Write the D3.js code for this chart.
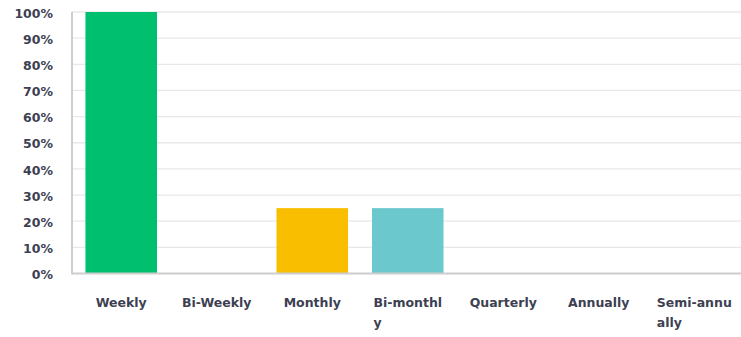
<!DOCTYPE html>
<html>
<head>
<meta charset="utf-8">
<script src="https://cdn.jsdelivr.net/npm/d3@7"></script>
<style>
  html, body { margin: 0; padding: 0; background: #fff; }
  svg { display: block; }
</style>
</head>
<body>
<svg id="chart" width="741" height="337"></svg>
<script>
// Response frequency, share of respondents per answer choice
const categories = ["Weekly", "Bi-Weekly", "Monthly", "Bi-monthly", "Quarterly", "Annually", "Semi-annually"];
const values = [100, 0, 25, 25, 0, 0, 0];
const barColors = ["#00bf6f", "#00bf6f", "#f9be00", "#6bc8cd", "#00bf6f", "#00bf6f", "#00bf6f"];
// Axis labels as they are broken over lines under each bar
const tickLines = [["Weekly"], ["Bi-Weekly"], ["Monthly"], ["Bi-monthl", "y"], ["Quarterly"], ["Annually"], ["Semi-annu", "ally"]];
const yTicks = [0, 10, 20, 30, 40, 50, 60, 70, 80, 90, 100];

const svg = d3.select("#chart");
const plotLeft = 72, plotRight = 743.5, plotTop = 12, plotBottom = 273.5;

const x = d3.scaleBand()
  .domain(categories)
  .range([plotLeft, plotRight])
  .paddingInner(0.251)
  .paddingOuter(0.141);

const y = d3.scaleLinear().domain([0, 100]).range([plotBottom, plotTop]);

const font = "'DejaVu Sans', sans-serif";
const textColor = "#3d3f52";

// horizontal gridlines
svg.append("g")
  .selectAll("line")
  .data(yTicks.filter(d => d > 0))
  .join("line")
  .attr("x1", plotLeft).attr("x2", 741)
  .attr("y1", d => y(d)).attr("y2", d => y(d))
  .attr("stroke", "#e8e8e8")
  .attr("stroke-width", 1.3);

// y tick labels
svg.append("g")
  .selectAll("text")
  .data(yTicks)
  .join("text")
  .attr("x", 53)
  .attr("y", d => y(d))
  .attr("dy", "0.45em")
  .attr("text-anchor", "end")
  .attr("font-family", font)
  .attr("font-weight", "bold")
  .attr("font-size", 12.5)
  .attr("fill", textColor)
  .text(d => d + "%");

// bars
svg.append("g")
  .selectAll("rect")
  .data(categories)
  .join("rect")
  .attr("x", d => x(d))
  .attr("width", x.bandwidth())
  .attr("y", (d, i) => y(values[i]))
  .attr("height", (d, i) => y(0) - y(values[i]))
  .attr("fill", (d, i) => barColors[i]);

// axis lines
svg.append("line")
  .attr("x1", plotLeft).attr("x2", plotLeft)
  .attr("y1", plotTop).attr("y2", plotBottom + 1)
  .attr("stroke", "#cdcdcd").attr("stroke-width", 2);
svg.append("line")
  .attr("x1", plotLeft).attr("x2", 741)
  .attr("y1", plotBottom).attr("y2", plotBottom)
  .attr("stroke", "#cdcdcd").attr("stroke-width", 2);

// category labels: first line centred under the bar, later lines share its left edge
const labels = svg.append("g")
  .selectAll("text")
  .data(categories)
  .join("text")
  .attr("font-family", font)
  .attr("font-weight", "bold")
  .attr("font-size", 12.5)
  .attr("fill", textColor);

labels.each(function (d, i) {
  const t = d3.select(this);
  const lines = tickLines[i];
  lines.forEach((ln, k) => {
    t.append("tspan").attr("y", 307 + k * 20).text(ln);
  });
  const first = t.select("tspan").node();
  const w = first.getComputedTextLength();
  const x0 = x(d) + x.bandwidth() / 2 - w / 2;
  t.selectAll("tspan").attr("x", x0);
});
</script>
</body>
</html>
